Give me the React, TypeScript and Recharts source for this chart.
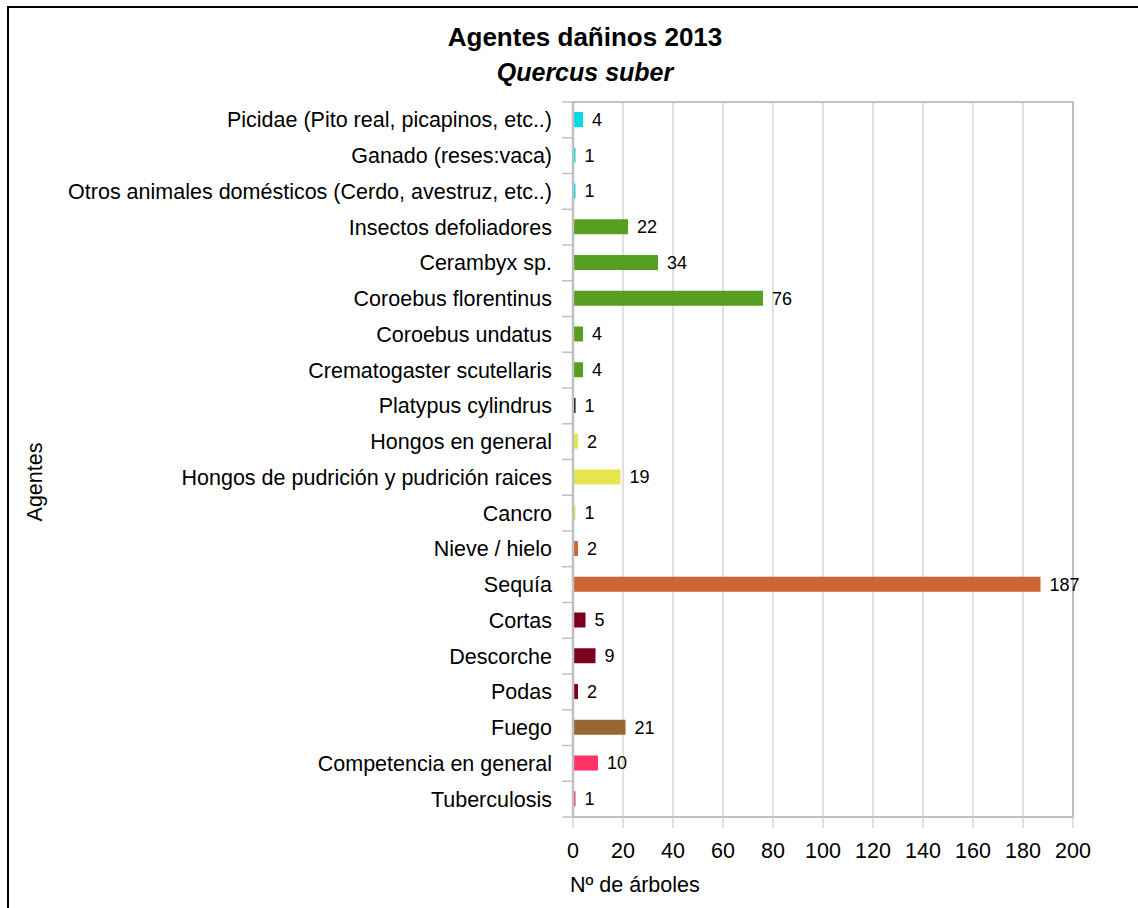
import React from "react";
import {
  BarChart,
  Bar,
  XAxis,
  YAxis,
  CartesianGrid,
  Cell,
  LabelList,
  ReferenceArea,
} from "recharts";

// Damaging agents recorded on Quercus suber, 2013 (number of trees)
const agentes: string[] = [
  "Picidae (Pito real, picapinos, etc..)",
  "Ganado (reses:vaca)",
  "Otros animales domésticos (Cerdo, avestruz, etc..)",
  "Insectos defoliadores",
  "Cerambyx sp.",
  "Coroebus florentinus",
  "Coroebus undatus",
  "Crematogaster scutellaris",
  "Platypus cylindrus",
  "Hongos en general",
  "Hongos de pudrición y pudrición raices",
  "Cancro",
  "Nieve / hielo",
  "Sequía",
  "Cortas",
  "Descorche",
  "Podas",
  "Fuego",
  "Competencia en general",
  "Tuberculosis",
];

const arboles: number[] = [4, 1, 1, 22, 34, 76, 4, 4, 1, 2, 19, 1, 2, 187, 5, 9, 2, 21, 10, 1];

const colores: string[] = [
  "#00dbe4", "#00dbe4", "#00dbe4",
  "#57a01f", "#57a01f", "#57a01f", "#57a01f", "#57a01f",
  "#000000",
  "#e6e64c", "#e6e64c", "#e6e64c",
  "#cc6633", "#cc6633",
  "#7e0021", "#7e0021", "#7e0021",
  "#996633",
  "#ff3366", "#ff3366",
];

const xTicks: number[] = [0, 20, 40, 60, 80, 100, 120, 140, 160, 180, 200];

const data = agentes.map((agente, i) => ({ agente, valor: arboles[i], color: colores[i] }));

const W = 1138;
const H = 908;
const MARGIN = { top: 102, right: 65, bottom: 51, left: 13 };
const Y_AXIS_W = 560;
const X_AXIS_H = 40;
const PLOT_H = H - MARGIN.top - MARGIN.bottom - X_AXIS_H;
const HALF_BAND = PLOT_H / agentes.length / 2;
const FONT = "'Liberation Sans', Arial, sans-serif";
const GRAY = "#c0c0c0";
const LABEL_SIZE = 21.5;

const CategoryTick = (props: any) => {
  const { x, y, payload, index } = props;
  const axisX = x + 21;
  return (
    <g>
      <line x1={axisX - 11} x2={axisX} y1={y - HALF_BAND} y2={y - HALF_BAND} stroke={GRAY} strokeWidth={1.5} />
      {index === agentes.length - 1 && (
        <line x1={axisX - 11} x2={axisX} y1={y + HALF_BAND} y2={y + HALF_BAND} stroke={GRAY} strokeWidth={1.5} />
      )}
      <text x={x} y={y} dy="0.35em" textAnchor="end" fontSize={LABEL_SIZE} fontFamily={FONT} fill="#000">
        {payload.value}
      </text>
    </g>
  );
};

export default function App() {
  return (
    <div style={{ position: "absolute", left: 0, top: 0, width: W, height: H, background: "#fff", fontFamily: FONT }}>
      <div
        style={{
          position: "absolute",
          left: 7,
          top: 6,
          width: W + 20,
          height: H + 20,
          border: "2px solid #000",
          boxSizing: "border-box",
        }}
      />
      <div style={{ position: "absolute", left: 0, top: 21, width: 1170, textAlign: "center", fontSize: 26, lineHeight: "32px", fontWeight: "bold", color: "#000" }}>
        Agentes dañinos 2013
      </div>
      <div style={{ position: "absolute", left: 0, top: 56, width: 1170, textAlign: "center", fontSize: 25, lineHeight: "32px", fontWeight: "bold", fontStyle: "italic", color: "#000" }}>
        Quercus suber
      </div>
      <div
        style={{
          position: "absolute",
          left: 35,
          top: 482,
          transform: "translate(-50%, -50%) rotate(-90deg)",
          fontSize: LABEL_SIZE,
          color: "#000",
          whiteSpace: "nowrap",
        }}
      >
        Agentes
      </div>
      <div style={{ position: "absolute", left: 570, top: 872, fontSize: LABEL_SIZE, lineHeight: "26px", color: "#000", whiteSpace: "nowrap" }}>
        Nº de árboles
      </div>
      <div style={{ position: "absolute", left: 0, top: 0 }}>
        <BarChart width={W} height={H} data={data} layout="vertical" margin={MARGIN}>
          <CartesianGrid horizontal={false} stroke={GRAY} strokeWidth={1} />
          <ReferenceArea x1={0} x2={200} fill="none" stroke={GRAY} strokeWidth={2} ifOverflow="visible" />
          <XAxis
            type="number"
            domain={[0, 200]}
            ticks={xTicks}
            interval={0}
            height={X_AXIS_H}
            tickSize={11}
            tickMargin={15}
            axisLine={{ stroke: GRAY, strokeWidth: 2 }}
            tickLine={{ stroke: GRAY, strokeWidth: 1 }}
            tick={{ fontSize: LABEL_SIZE, fill: "#000", fontFamily: FONT }}
          />
          <YAxis
            type="category"
            dataKey="agente"
            width={Y_AXIS_W}
            interval={0}
            tickSize={21}
            tickMargin={0}
            tickLine={false}
            axisLine={{ stroke: GRAY, strokeWidth: 2.5 }}
            tick={<CategoryTick />}
          />
          <Bar dataKey="valor" barSize={15} isAnimationActive={false}>
            {data.map((d, i) => (
              <Cell key={i} fill={d.color} />
            ))}
            <LabelList dataKey="valor" position="right" offset={9} fontSize={18} fill="#000" fontFamily={FONT} />
          </Bar>
        </BarChart>
      </div>
    </div>
  );
}
